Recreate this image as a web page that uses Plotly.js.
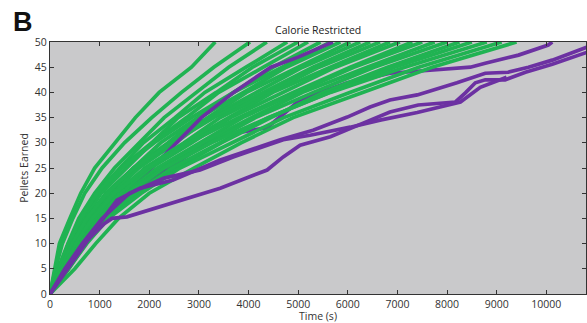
<!DOCTYPE html>
<html>
<head>
<meta charset="utf-8">
<script src="https://cdn.plot.ly/plotly-3.0.1.min.js"></script>
<style>html,body{margin:0;padding:0;background:#fff;}#chart{width:587px;height:323px;}</style>
</head>
<body>
<div id="chart"></div>
<script>
// Pellet levels (y) at which green curve times are read
const pelletLevels = [0, 5, 10, 15, 20, 25, 30, 35, 40, 45, 50];

// Green curves: time (s) at which each pellet level was reached
const greenTimes = [
  [0, 90, 190, 400, 620, 900, 1300, 1720, 2200, 2850, 3330],
  [0, 110, 250, 460, 700, 1050, 1500, 2050, 2650, 3300, 4030],
  [0, 160, 360, 580, 900, 1300, 1800, 2300, 2950, 3600, 4370],
  [0, 200, 370, 640, 940, 1400, 1880, 2520, 3120, 3950, 4780],
  [0, 210, 420, 630, 1020, 1430, 2050, 2580, 3350, 4080, 5000],
  [0, 190, 410, 700, 1030, 1550, 2060, 2750, 3400, 4300, 5200],
  [0, 180, 380, 620, 950, 1450, 2100, 2850, 3700, 4500, 5450],
  [0, 220, 440, 760, 1120, 1680, 2230, 2980, 3700, 4680, 5650],
  [0, 250, 470, 740, 1200, 1680, 2380, 3010, 3900, 4760, 5850],
  [0, 240, 490, 800, 1190, 1780, 2400, 3180, 3960, 5000, 6050],
  [0, 260, 510, 800, 1270, 1790, 2530, 3220, 4160, 5090, 6250],
  [0, 220, 450, 740, 1150, 1700, 2450, 3300, 4300, 5300, 6450],
  [0, 270, 540, 860, 1350, 1910, 2700, 3430, 4420, 5420, 6650],
  [0, 280, 540, 900, 1360, 2010, 2720, 3600, 4490, 5650, 6850],
  [0, 290, 570, 910, 1430, 2030, 2860, 3640, 4690, 5750, 7050],
  [0, 260, 520, 850, 1300, 1950, 2800, 3800, 4900, 6050, 7300],
  [0, 310, 610, 970, 1520, 2160, 3030, 3880, 4980, 6120, 7500],
  [0, 310, 630, 1010, 1540, 2270, 3080, 4060, 5090, 6390, 7750],
  [0, 330, 640, 1050, 1610, 2300, 3230, 4140, 5310, 6530, 8000],
  [0, 380, 720, 1150, 1750, 2550, 3450, 4450, 5500, 6800, 8250],
  [0, 350, 690, 1100, 1720, 2450, 3430, 4400, 5640, 6940, 8500],
  [0, 300, 620, 1000, 1550, 2300, 3250, 4400, 5650, 7150, 8800],
  [0, 370, 740, 1180, 1840, 2620, 3670, 4710, 6040, 7430, 9100],
  [0, 500, 920, 1380, 2000, 2900, 3850, 4900, 6300, 7700, 9400]
];

// Purple curves running through the green band
const purpleHighTimes = [
  [0, 300, 650, 1050, 1550, 2050, 2550, 3050, 3700, 4450, 5000, 5700],
  [0, 300, 700, 1150, 1700, 2400, 3000, 3490, 4375, 5040, 5990, 6850, 7520, 8470, 8770, 9440, 10040, 10120]
];
const purpleHighPellets = [
  [0, 5, 10, 15, 20, 25, 30, 35, 40, 45, 47, 50],
  [0, 5, 10, 15, 20, 25, 29, 31.5, 33, 38.5, 41.9, 43.8, 44.3, 45, 45.8, 47.4, 49.4, 50]
];

// Purple curves below the green band
const purpleLowTimes = [
  [0, 350, 700, 1000, 1350, 1815, 2480, 3430, 4640, 5300, 5990, 6450, 6850, 7400, 8200, 8770, 9230, 9640, 10120, 10830],
  [0, 350, 680, 1100, 1250, 1550, 1815, 2480, 3430, 4375, 4700, 5040, 5650, 6310, 6850, 7420, 8170, 8370, 8570, 8770, 9170, 9580, 10120, 10830],
  [0, 300, 650, 1050, 1600, 2300, 3024, 3690, 4700, 5240, 6050, 6650, 7400, 8270, 8670, 9200]
];
const purpleLowPellets = [
  [0, 5, 10, 14, 18.6, 21, 22.6, 26.6, 30.6, 32.5, 35.1, 37.1, 38.5, 39.5, 41.9, 43.8, 44, 45, 46.4, 49],
  [0, 5, 10, 14, 15, 15.3, 16.1, 18, 21, 24.6, 27.2, 29.5, 31.2, 33.9, 36.1, 37.5, 38.1, 39.9, 41.9, 42.5, 42.5, 44, 45.6, 48],
  [0, 5, 10, 15, 20, 23, 24.6, 27.2, 30.6, 31.5, 33.1, 34.5, 36, 38.1, 41, 43]
];

const xTickVals = [0, 1000, 2000, 3000, 4000, 5000, 6000, 7000, 8000, 9000, 10000];
const yTickVals = [0, 5, 10, 15, 20, 25, 30, 35, 40, 45, 50];

const GREEN = '#20B352';
const PURPLE = '#6C31A2';
const LW = 3.7;

function greenTrace(t) {
  return {x: t, y: pelletLevels, type: 'scatter', mode: 'lines',
    line: {color: GREEN, width: LW}, hoverinfo: 'skip', showlegend: false};
}
function purpleTrace(t, p) {
  return {x: t, y: p, type: 'scatter', mode: 'lines',
    line: {color: PURPLE, width: LW}, hoverinfo: 'skip', showlegend: false};
}

const traces = [];
greenTimes.slice(0, 12).forEach(t => traces.push(greenTrace(t)));
purpleHighTimes.forEach((t, i) => traces.push(purpleTrace(t, purpleHighPellets[i])));
greenTimes.slice(12).forEach(t => traces.push(greenTrace(t)));
purpleLowTimes.forEach((t, i) => traces.push(purpleTrace(t, purpleLowPellets[i])));

const axisFont = {family: 'Open Sans, Noto Sans, sans-serif', size: 10.5, color: '#333'};

const layout = {
  width: 587, height: 323,
  margin: {l: 50, r: 1, t: 42, b: 29, pad: 0},
  paper_bgcolor: '#ffffff',
  plot_bgcolor: '#C9C9CB',
  showlegend: false,
  title: {
    text: 'Calorie Restricted',
    font: {family: 'Open Sans, Noto Sans, sans-serif', size: 10.5, color: '#222'},
    x: 0.542, xref: 'container', xanchor: 'center',
    y: 0.905, yref: 'container', yanchor: 'middle'
  },
  xaxis: {
    range: [0, 10800], tickvals: xTickVals, ticktext: xTickVals.map(String),
    ticks: 'inside', ticklen: 4, tickwidth: 1, tickcolor: '#333',
    showline: true, linecolor: '#333', linewidth: 1.2, mirror: 'ticks',
    showgrid: false, zeroline: false, tickfont: axisFont,
    title: {text: 'Time (s)', font: axisFont, standoff: 0}
  },
  yaxis: {
    range: [0, 50], tickvals: yTickVals, ticktext: yTickVals.map(String),
    ticks: 'inside', ticklen: 4, tickwidth: 1, tickcolor: '#333',
    showline: true, linecolor: '#333', linewidth: 1.2, mirror: 'ticks',
    showgrid: false, zeroline: false, tickfont: axisFont,
    title: {text: 'Pellets Earned', font: axisFont, standoff: 4}
  },
  annotations: [{
    text: '<b>B</b>', xref: 'paper', yref: 'paper',
    x: -0.072, y: 1.145, xanchor: 'left', yanchor: 'top', showarrow: false,
    font: {family: 'Liberation Sans, Arial, sans-serif', size: 27, color: '#111'}
  }]
};

Plotly.newPlot('chart', traces, layout, {staticPlot: true, displayModeBar: false});
</script>
</body>
</html>
